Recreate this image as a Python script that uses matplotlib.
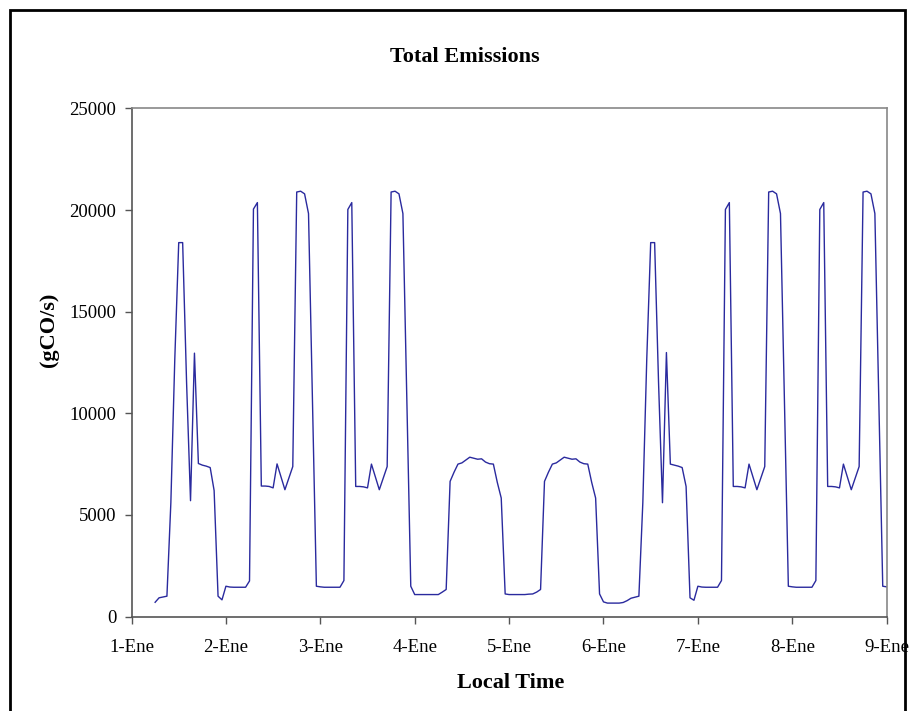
import numpy as np
import matplotlib
matplotlib.use("Agg")
import matplotlib.pyplot as plt
from matplotlib.patches import Rectangle

# hourly emissions (gCO/s), one list per day; day 1 starts at 06:00
day1 = [700, 920, 960, 1000, 5600, 12660, 18400, 18400, 11500, 5700, 12960,
        7530, 7450, 7400, 7330, 6200, 1000, 820]
day2 = [1490, 1450, 1440, 1440, 1440, 1440, 1750, 20050, 20370, 6420, 6420,
        6400, 6330, 7510, 6870, 6240, 6810, 7380, 20890, 20930, 20800, 19830,
        10600, 1490]
day3 = [1460, 1440, 1440, 1440, 1440, 1440, 1770, 20030, 20370, 6400, 6400,
        6380, 6330, 7500, 6870, 6240, 6810, 7380, 20890, 20930, 20800, 19830,
        10600, 1490]
day4 = [1080, 1080, 1080, 1080, 1080, 1080, 1080, 1200, 1330, 6650, 7100,
        7500, 7560, 7700, 7840, 7790, 7740, 7760, 7600, 7520, 7500, 6600,
        5830, 1110]
day5 = [1080, 1080, 1080, 1080, 1080, 1100, 1110, 1200, 1330, 6650, 7100,
        7500, 7560, 7700, 7840, 7790, 7740, 7760, 7600, 7520, 7500, 6600,
        5830, 1110]
day6 = [720, 660, 660, 660, 660, 690, 780, 900, 950, 1000, 5600, 12660,
        18400, 18400, 11500, 5600, 12990, 7500, 7450, 7400, 7330, 6400, 920,
        800]
day7 = [1490, 1450, 1440, 1440, 1440, 1440, 1770, 20030, 20370, 6400, 6400,
        6380, 6330, 7500, 6870, 6240, 6810, 7380, 20890, 20930, 20800, 19830,
        10600, 1490]
day8 = [1460, 1440, 1440, 1440, 1440, 1440, 1770, 20030, 20370, 6400, 6400,
        6380, 6330, 7500, 6870, 6240, 6810, 7380, 20890, 20930, 20800, 19830,
        10600, 1490]
day9 = [1460]

start_hour = 6
tick_labels = ['1-Ene', '2-Ene', '3-Ene', '4-Ene', '5-Ene', '6-Ene', '7-Ene',
               '8-Ene', '9-Ene']
y_ticks = [0, 5000, 10000, 15000, 20000, 25000]

values = np.array(day1 + day2 + day3 + day4 + day5 + day6 + day7 + day8 + day9,
                  dtype=float)
days = (start_hour + np.arange(len(values))) / 24.0

plt.rcParams['font.family'] = ['Liberation Serif', 'DejaVu Serif']

fig = plt.figure(figsize=(9.14, 7.11), dpi=100)
ax = fig.add_axes([0.1439, 0.1329, 0.8262, 0.7145])

ax.plot(days, values, color='#2a2a9e', linewidth=1.0)

ax.set_xlim(0, 8)
ax.set_ylim(0, 25000)
ax.set_xticks(range(len(tick_labels)))
ax.set_xticklabels(tick_labels)
ax.set_yticks(y_ticks)
ax.tick_params(axis='both', direction='out', length=5, width=1, color='#555555',
               labelsize=13.5, pad=6)
ax.tick_params(axis='x', pad=11)

for side in ['left', 'bottom']:
    ax.spines[side].set_color('#555555')
    ax.spines[side].set_linewidth(1.2)
for side in ['top', 'right']:
    ax.spines[side].set_color('#888888')
    ax.spines[side].set_linewidth(1.2)

fig.text(511 / 914, 1 - 683 / 711, 'Local Time', ha='center', va='center',
         fontsize=16, fontweight='bold')
fig.text(49 / 914, 1 - 330 / 711, '(gCO/s)', ha='center', va='center',
         rotation=90, fontsize=16, fontweight='bold')
fig.text(465 / 914, 1 - 57 / 711, 'Total Emissions', ha='center', va='center',
         fontsize=16, fontweight='bold')

# outer chart frame
fig.patches.append(Rectangle((10 / 914, -0.05), 895 / 914, 1.05 - 10 / 711,
                             transform=fig.transFigure, fill=False,
                             edgecolor='black', linewidth=2))

fig.savefig('out.png', dpi=100)
